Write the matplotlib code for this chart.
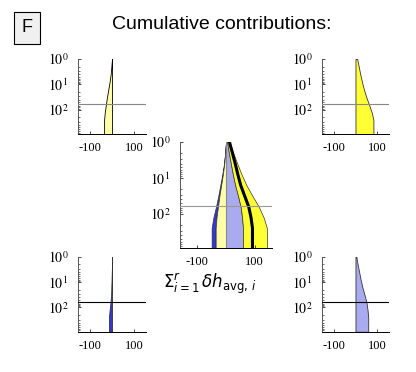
"""Cumulative contributions panel (F) — four component panels + stacked centre."""
import numpy as np
import matplotlib; matplotlib.use("Agg")
import matplotlib.pyplot as plt

plt.rcParams["axes.unicode_minus"] = False
plt.rcParams["mathtext.fontset"] = "stix"

# ── data: cumulative contribution vs rank ───────────────────────────
ranks      = [1, 2, 4, 8, 16, 32, 64, 128, 250]
yellow_pos = [8, 15, 22, 30, 39, 50, 63, 75, 83]
yellow_neg = [0, -3, -6, -11, -17, -23, -28, -33, -36]
blue_pos   = [4, 10, 17, 24, 32, 42, 51, 56, 59]
blue_neg   = [0, 0, -1, -2, -3, -4, -7, -11, -14]
rank_cut   = 60
y_ticks      = [1, 10, 100]
y_ticklabels = [r"$10^{0}$", r"$10^{1}$", r"$10^{2}$"]
x_ticks      = [-100, 100]
Y_BOTTOM     = 900

C_YEL  = "#ffff33"
C_PYEL = "#ffffaa"
C_LAV  = "#aaaaee"
C_BLUE = "#3535d8"
C_EDGE = "#333333"

# extend each curve flat down to the bottom of the axis
r = np.append(ranks, Y_BOTTOM)
ext = lambda v: np.append(v, v[-1])
yp, yn, bp, bn = ext(yellow_pos), ext(yellow_neg), ext(blue_pos), ext(blue_neg)
net = yp + yn + bp + bn


def style(ax, xlim, hcol):
    ax.set_yscale("log")
    ax.set_ylim(Y_BOTTOM, 1)
    ax.set_xlim(*xlim)
    ax.set_yticks(y_ticks)
    ax.set_yticklabels(y_ticklabels)
    ax.set_xticks(x_ticks)
    ax.set_xticklabels([str(t) for t in x_ticks])
    for s in ("top", "right"):
        ax.spines[s].set_visible(False)
    ax.spines["left"].set_color("#555555")
    ax.spines["left"].set_linewidth(0.7)
    ax.spines["bottom"].set_linewidth(0.7)
    ax.tick_params(direction="in", length=2, width=0.5, labelsize=9, pad=6)
    ax.tick_params(axis="y", labelsize=10, pad=7)
    ax.tick_params(which="minor", direction="in", length=1.2, width=0.4)
    ax.axhline(rank_cut, color=hcol, lw=0.8, zorder=5)
    for lab in ax.get_xticklabels():
        lab.set_family("Liberation Serif")


fig = plt.figure(figsize=(4.16, 3.72), dpi=100)
fig.patch.set_facecolor("white")

ax_tl = fig.add_axes([0.1875, 0.640, 0.1635, 0.2016])
ax_tr = fig.add_axes([0.774, 0.640, 0.161, 0.2016])
ax_c  = fig.add_axes([0.4327, 0.3333, 0.2212, 0.285])
ax_bl = fig.add_axes([0.1875, 0.1083, 0.1635, 0.2016])
ax_br = fig.add_axes([0.774, 0.1083, 0.161, 0.2016])

# top-left: yellow, negative
ax_tl.fill_betweenx(r, 0, yn, facecolor=C_PYEL, edgecolor="black", lw=0.6)
style(ax_tl, (-155, 155), "#888888")

# top-right: yellow, positive
ax_tr.fill_betweenx(r, 0, yp, facecolor=C_YEL, edgecolor=C_EDGE, lw=0.6)
style(ax_tr, (-155, 155), "#888888")

# bottom-left: blue, negative
ax_bl.fill_betweenx(r, 0, bn, facecolor=C_BLUE, edgecolor=C_EDGE, lw=0.6)
style(ax_bl, (-155, 155), "black")

# bottom-right: blue, positive
ax_br.fill_betweenx(r, 0, bp, facecolor=C_LAV, edgecolor=C_EDGE, lw=0.6)
style(ax_br, (-155, 155), "black")

# centre: stacked contributions + net total
ax_c.fill_betweenx(r, yn, yn + bn, facecolor=C_BLUE, edgecolor=C_EDGE, lw=0.5)
ax_c.fill_betweenx(r, 0, yn, facecolor=C_PYEL, edgecolor=C_EDGE, lw=0.5)
ax_c.fill_betweenx(r, 0, bp, facecolor=C_LAV, edgecolor=C_EDGE, lw=0.5)
ax_c.fill_betweenx(r, bp, bp + yp, facecolor=C_YEL, edgecolor=C_EDGE, lw=0.5)
ax_c.axvline(0, color="#888888", lw=0.8)
ax_c.plot(net, r, color="black", lw=2.2, zorder=4)
style(ax_c, (-160, 160), "#999999")

# ── labels ─────────────────────────────────────────────────────────
fig.text(0.533, 0.933, "Cumulative contributions:", ha="center", va="center",
         fontsize=14, family="Liberation Sans")
fig.text(0.065, 0.925, "F", ha="center", va="center", fontsize=13,
         family="Liberation Sans",
         bbox=dict(boxstyle="square,pad=0.4", facecolor="#f0f0f0",
                   edgecolor="black", lw=0.8))
fig.text(0.392, 0.238, r"$\Sigma^{r}_{i=1}\,\delta h_{\mathrm{avg,\,} i}$",
         ha="left", va="center", fontsize=12, math_fontfamily="dejavusans")

fig.savefig("out.png", dpi=100, facecolor="white")
plt.close(fig)
